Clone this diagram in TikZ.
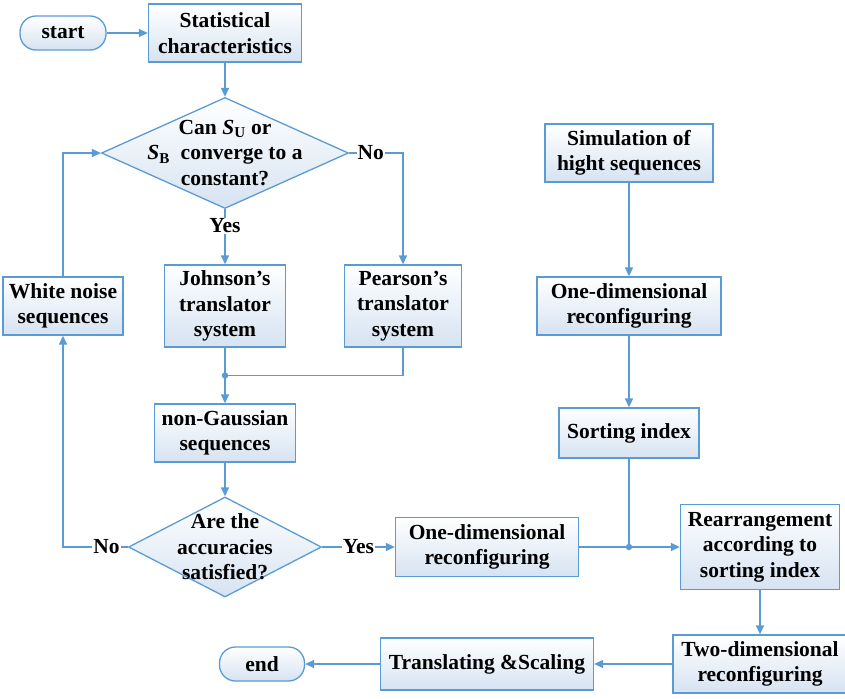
\documentclass[tikz,border=0pt]{standalone}
\usepackage{fontspec}
\setmainfont{Liberation Serif}
\usepackage{tikz}
\usetikzlibrary{shapes.geometric,arrows.meta,positioning,calc}

\definecolor{flowblue}{RGB}{91,155,213}
\definecolor{flowfill}{RGB}{214,227,242}

\tikzset{
  box/.style={rectangle, draw=flowblue, line width=1.3pt, top color=white, bottom color=flowfill, align=center, inner sep=2pt},
  terminal/.style={rectangle, rounded corners=16pt, draw=flowblue, line width=1.3pt, top color=white, bottom color=flowfill, minimum width=86pt, minimum height=34pt},
  decision/.style 2 args={diamond, draw=flowblue, line width=1.3pt, top color=white, bottom color=flowfill, inner sep=0pt, minimum width=#1, minimum height=#2},
  dtext/.style={align=center},
  line/.style={draw=flowblue, line width=1.3pt},
  tag/.style={fill=white, inner sep=1pt}
}

\begin{document}
\begin{tikzpicture}[x=1pt, y=-1pt, node distance=120pt, >={Triangle[length=9pt,width=8pt]}, font=\fontsize{21.5}{25.5}\selectfont\bfseries]
    \useasboundingbox (0,0) rectangle (845,698);

    % Nodes
    \node [terminal] (start) at (63,33) {start};
    \node [box, minimum width=153pt, minimum height=58pt, right of=start, xshift=42pt] (stats) {Statistical\\characteristics};
    \node [decision={247pt}{111pt}, below of=stats, label={[dtext]center:Can \textit{S}\textsubscript{U} or\\\textit{S}\textsubscript{B}\ \ converge to a\\constant?}] (decide) {};
    \node [box, minimum width=121pt, minimum height=82pt, below of=decide, yshift=-33pt] (johnson) {Johnson's\\translator\\system};
    \node [box, minimum width=117pt, minimum height=82pt, right of=johnson, xshift=58pt] (pearson) {Pearson's\\translator\\system};
    \node [box, minimum width=120pt, minimum height=58pt, left of=johnson, xshift=-42pt] (noise) {White noise\\sequences};
    \node [box, minimum width=141pt, minimum height=58pt, below of=johnson, yshift=-7pt] (nongauss) {non-Gaussian\\sequences};
    \node [decision={193pt}{100pt}, below of=nongauss, yshift=6pt, label={[dtext]center:Are the\\accuracies\\satisfied?}] (accurate) {};
    \node [box, minimum width=183pt, minimum height=59pt, right of=accurate, xshift=142pt] (onedim) {One-dimensional\\reconfiguring};
    \node [box, minimum width=159pt, minimum height=85pt, right of=onedim, xshift=153pt] (rearrange) {Rearrangement\\according to\\sorting index};
    \node [box, minimum width=174pt, minimum height=58pt, below of=rearrange, yshift=3pt] (twodim) {Two-dimensional\\reconfiguring};
    \node [box, minimum width=213pt, minimum height=52pt, left of=twodim, xshift=-153pt] (translate) {Translating \&Scaling};
    \node [terminal, minimum width=85pt, left of=translate, xshift=-105pt] (finish) {end};
    \node [box, minimum width=168pt, minimum height=58pt, right of=decide, xshift=284pt] (sim) {Simulation of\\hight sequences};
    \node [box, minimum width=184pt, minimum height=58pt, below of=sim, yshift=-33pt] (onedimtop) {One-dimensional\\reconfiguring};
    \node [box, minimum width=140pt, minimum height=50pt, below of=onedimtop, yshift=-7pt] (sorting) {Sorting index};

    \coordinate (merge) at ($(johnson.south)!0.5!(nongauss.north)$);
    \coordinate (join) at (sorting |- onedim);

    % Path
    \draw [line, ->] (start) -- (stats);
    \draw [line, ->] (stats) -- (decide);
    \draw [line, ->] (decide) -- node[tag, pos=0.3] {Yes} (johnson);
    \draw [line, ->] (decide.east) -- node[tag, pos=0.4] {No} (decide.east -| pearson) -- (pearson);
    \draw [line, ->] (johnson) -- (nongauss);
    \draw [line] (pearson) |- (merge);
    \fill [flowblue] (merge) circle (3.2pt);
    \draw [line, ->] (nongauss) -- (accurate);
    \draw [line, ->] (accurate.west) -- node[tag, pos=0.33] {No} (accurate.west -| noise) -- (noise);
    \draw [line, ->] (noise) |- (decide);
    \draw [line, ->] (accurate) -- node[tag] {Yes} (onedim);
    \draw [line, ->] (onedim) -- (rearrange);
    \draw [line, ->] (sim) -- (onedimtop);
    \draw [line, ->] (onedimtop) -- (sorting);
    \draw [line] (sorting) -- (join);
    \fill [flowblue] (join) circle (3.2pt);
    \draw [line, ->] (rearrange) -- (twodim);
    \draw [line, ->] (twodim) -- (translate);
    \draw [line, ->] (translate) -- (finish);
\end{tikzpicture}
\end{document}
